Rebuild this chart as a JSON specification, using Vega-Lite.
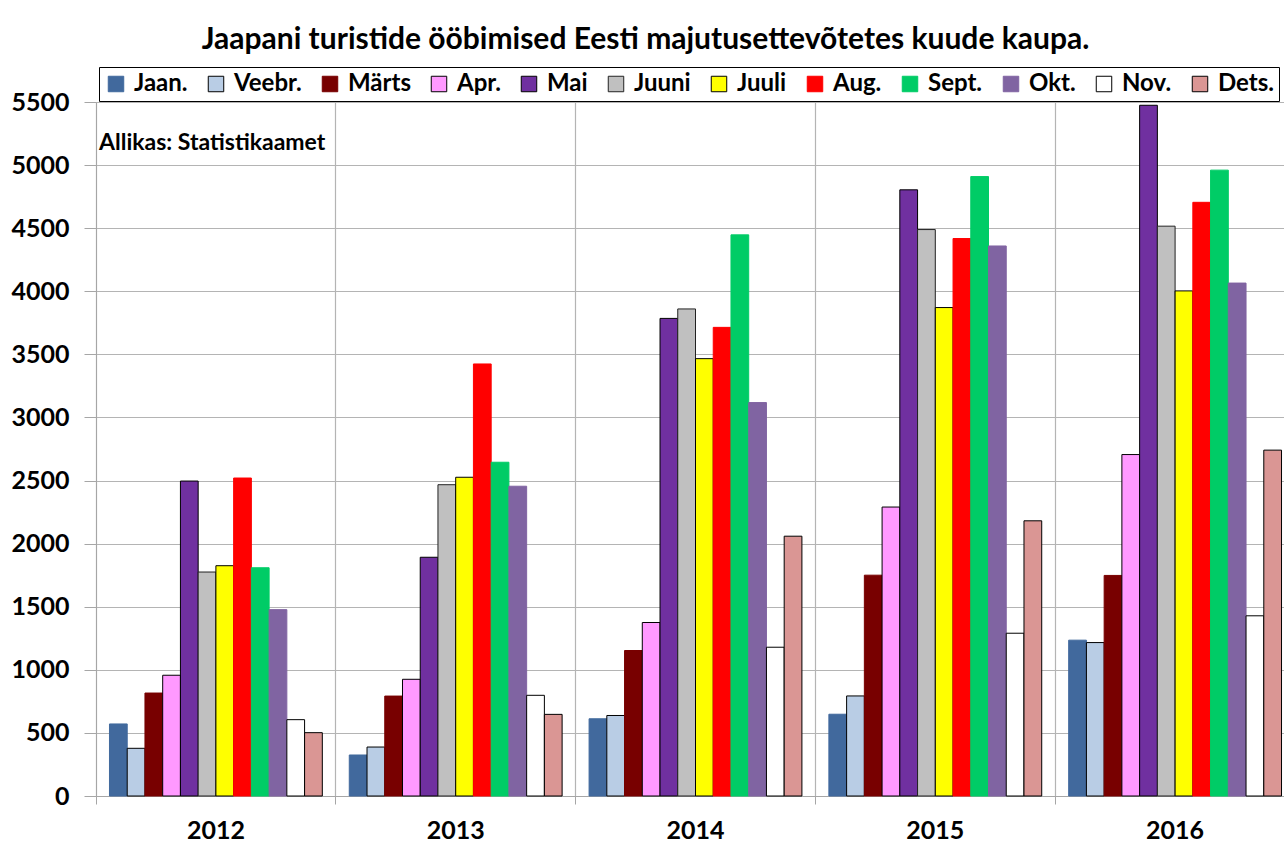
{
  "$schema": "https://vega.github.io/schema/vega-lite/v6.json",
  "width": 1199,
  "height": 694,
  "autosize": {"type": "none"},
  "padding": {"left": 96, "top": 102, "right": -11, "bottom": 47},
  "background": "white",
  "title": {
    "text": "Jaapani turistide ööbimised Eesti majutusettevõtetes kuude kaupa.",
    "font": "Lato",
    "fontSize": 30,
    "fontWeight": "bold",
    "color": "black",
    "anchor": "middle",
    "dx": -50,
    "offset": 12
  },
  "config": {
    "font": "Lato",
    "view": {"stroke": null},
    "legend": {
      "orient": "none",
      "legendX": 3,
      "legendY": -35,
      "direction": "horizontal",
      "columns": 12,
      "title": null,
      "labelFont": "Lato",
      "labelFontSize": 24,
      "labelFontWeight": "bold",
      "labelColor": "black",
      "labelOffset": 6,
      "symbolType": "square",
      "symbolSize": 240,
      "symbolStrokeWidth": 1,
      "columnPadding": 16,
      "padding": 5,
      "fillColor": "white",
      "strokeColor": "black",
      "labelLimit": 200
    }
  },
  "layer": [
    {
      "data": {
        "values": [
          {"year": "2012", "month": "Jaan.", "value": 571},
          {"year": "2012", "month": "Veebr.", "value": 378},
          {"year": "2012", "month": "Märts", "value": 816},
          {"year": "2012", "month": "Apr.", "value": 957},
          {"year": "2012", "month": "Mai", "value": 2496},
          {"year": "2012", "month": "Juuni", "value": 1775},
          {"year": "2012", "month": "Juuli", "value": 1825},
          {"year": "2012", "month": "Aug.", "value": 2520},
          {"year": "2012", "month": "Sept.", "value": 1809},
          {"year": "2012", "month": "Okt.", "value": 1477},
          {"year": "2012", "month": "Nov.", "value": 605},
          {"year": "2012", "month": "Dets.", "value": 502},
          {"year": "2013", "month": "Jaan.", "value": 325},
          {"year": "2013", "month": "Veebr.", "value": 388},
          {"year": "2013", "month": "Märts", "value": 792},
          {"year": "2013", "month": "Apr.", "value": 925},
          {"year": "2013", "month": "Mai", "value": 1892},
          {"year": "2013", "month": "Juuni", "value": 2467},
          {"year": "2013", "month": "Juuli", "value": 2526},
          {"year": "2013", "month": "Aug.", "value": 3424},
          {"year": "2013", "month": "Sept.", "value": 2645},
          {"year": "2013", "month": "Okt.", "value": 2455},
          {"year": "2013", "month": "Nov.", "value": 798},
          {"year": "2013", "month": "Dets.", "value": 647},
          {"year": "2014", "month": "Jaan.", "value": 612},
          {"year": "2014", "month": "Veebr.", "value": 638},
          {"year": "2014", "month": "Märts", "value": 1153},
          {"year": "2014", "month": "Apr.", "value": 1375},
          {"year": "2014", "month": "Mai", "value": 3785},
          {"year": "2014", "month": "Juuni", "value": 3860},
          {"year": "2014", "month": "Juuli", "value": 3466},
          {"year": "2014", "month": "Aug.", "value": 3714},
          {"year": "2014", "month": "Sept.", "value": 4447},
          {"year": "2014", "month": "Okt.", "value": 3118},
          {"year": "2014", "month": "Nov.", "value": 1179},
          {"year": "2014", "month": "Dets.", "value": 2059},
          {"year": "2015", "month": "Jaan.", "value": 648},
          {"year": "2015", "month": "Veebr.", "value": 793},
          {"year": "2015", "month": "Märts", "value": 1750},
          {"year": "2015", "month": "Apr.", "value": 2290},
          {"year": "2015", "month": "Mai", "value": 4804},
          {"year": "2015", "month": "Juuni", "value": 4489},
          {"year": "2015", "month": "Juuli", "value": 3871},
          {"year": "2015", "month": "Aug.", "value": 4418},
          {"year": "2015", "month": "Sept.", "value": 4909},
          {"year": "2015", "month": "Okt.", "value": 4359},
          {"year": "2015", "month": "Nov.", "value": 1290},
          {"year": "2015", "month": "Dets.", "value": 2181},
          {"year": "2016", "month": "Jaan.", "value": 1235},
          {"year": "2016", "month": "Veebr.", "value": 1216},
          {"year": "2016", "month": "Märts", "value": 1748},
          {"year": "2016", "month": "Apr.", "value": 2706},
          {"year": "2016", "month": "Mai", "value": 5474},
          {"year": "2016", "month": "Juuni", "value": 4516},
          {"year": "2016", "month": "Juuli", "value": 4003},
          {"year": "2016", "month": "Aug.", "value": 4705},
          {"year": "2016", "month": "Sept.", "value": 4960},
          {"year": "2016", "month": "Okt.", "value": 4065},
          {"year": "2016", "month": "Nov.", "value": 1428},
          {"year": "2016", "month": "Dets.", "value": 2741}
        ]
      },
      "mark": {"type": "bar", "strokeWidth": 1},
      "encoding": {
        "x": {
          "field": "year",
          "type": "nominal",
          "title": null,
          "scale": {"paddingInner": 0, "paddingOuter": 0},
          "axis": {
            "bandPosition": 0,
            "labelAngle": 0,
            "labelFont": "Lato",
            "labelFontSize": 25,
            "labelFontWeight": "bold",
            "labelColor": "black",
            "labelPadding": 14,
            "tickSize": 8,
            "tickColor": "#a6a6a6",
            "domainColor": "#a6a6a6",
            "grid": true,
            "gridColor": "#b4b4b4",
            "gridWidth": 1.2
          }
        },
        "xOffset": {
          "field": "month",
          "type": "nominal",
          "sort": ["Jaan.", "Veebr.", "Märts", "Apr.", "Mai", "Juuni", "Juuli", "Aug.", "Sept.", "Okt.", "Nov.", "Dets."],
          "scale": {"paddingInner": 0, "paddingOuter": 0.76}
        },
        "y": {
          "field": "value",
          "type": "quantitative",
          "title": null,
          "scale": {"domain": [0, 5500], "nice": false},
          "axis": {
            "values": [0, 500, 1000, 1500, 2000, 2500, 3000, 3500, 4000, 4500, 5000, 5500],
            "format": "d",
            "labelFont": "Lato",
            "labelFontSize": 25,
            "labelFontWeight": "bold",
            "labelColor": "black",
            "labelPadding": 15,
            "tickSize": 12,
            "tickColor": "#a6a6a6",
            "domainColor": "#a6a6a6",
            "gridColor": "#b4b4b4",
            "gridWidth": 1.2
          }
        },
        "color": {
          "field": "month",
          "type": "nominal",
          "scale": {
            "domain": ["Jaan.", "Veebr.", "Märts", "Apr.", "Mai", "Juuni", "Juuli", "Aug.", "Sept.", "Okt.", "Nov.", "Dets."],
            "range": ["#41699d", "#b9cde5", "#780000", "#ff99ff", "#7030a0", "#c0c0c0", "#ffff00", "#ff0000", "#00cc66", "#8064a2", "#ffffff", "#da9694"]
          }
        },
        "stroke": {
          "field": "month",
          "type": "nominal",
          "scale": {
            "domain": ["Jaan.", "Veebr.", "Märts", "Apr.", "Mai", "Juuni", "Juuli", "Aug.", "Sept.", "Okt.", "Nov.", "Dets."],
            "range": ["#41699d", "#000000", "#780000", "#000000", "#000000", "#222222", "#000000", "#ff0000", "#00cc66", "#8064a2", "#000000", "#000000"]
          }
        }
      }
    },
    {
      "data": {"values": [{"year": "2012", "v": 5175, "t": "Allikas: Statistikaamet"}]},
      "mark": {"type": "text", "align": "left", "baseline": "middle", "dx": 3, "font": "Lato", "fontSize": 23, "fontWeight": "bold", "color": "black"},
      "encoding": {
        "x": {"field": "year", "type": "nominal", "bandPosition": 0},
        "y": {"field": "v", "type": "quantitative"},
        "text": {"field": "t"}
      }
    }
  ]
}
